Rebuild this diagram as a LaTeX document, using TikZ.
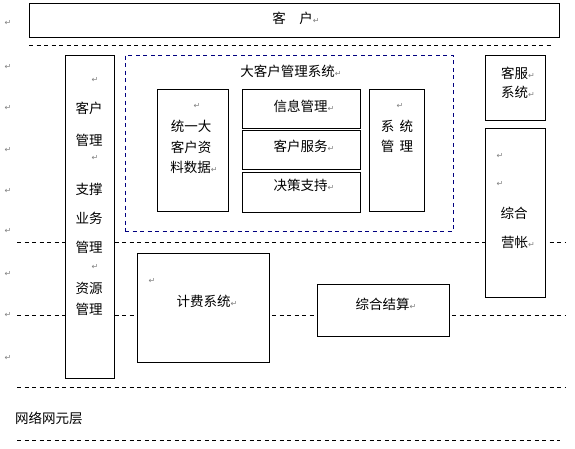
\documentclass[tikz,border=0pt]{standalone}
\usepackage{fontspec}
\newfontfamily\cjk{Noto Sans CJK SC}
\newfontfamily\dv{DejaVu Sans}
\newcommand{\ret}{{\dv\fontsize{8}{9}\selectfont\color{gray}↵}}
\definecolor{navyblue}{RGB}{0,0,128}
\begin{document}
\begin{tikzpicture}[x=1pt,y=-1pt,
  box/.style={draw=black,line width=0.9pt,fill=white,inner sep=0pt},
  dline/.style={draw=black,line width=0.8pt,dash pattern=on 4pt off 3.5pt},
  bdline/.style={draw=navyblue,line width=0.8pt,dash pattern=on 4pt off 3.5pt},
  txt/.style={font=\cjk\fontsize{13.5}{15}\selectfont,inner sep=0pt,anchor=center},
  mk/.style={inner sep=0pt,anchor=center}]
\useasboundingbox (0,0) rectangle (575,448);
% dashed layer lines
\coordinate (l1a) at (29,45); \coordinate (l1b) at (553,45);
\coordinate (l2a) at (17,242); \coordinate (l2b) at (565,242);
\coordinate (l3a) at (17,315); \coordinate (l3b) at (565,315);
\coordinate (l4a) at (17,387); \coordinate (l4b) at (565,387);
\coordinate (l5a) at (17,440); \coordinate (l5b) at (560,440);
\draw[dline] (l1a) -- (l1b);
\draw[dline] (l2a) -- (l2b);
\draw[dline] (l3a) -- (l3b);
\draw[dline] (l4a) -- (l4b);
\draw[dline] (l5a) -- (l5b);
% top box
\node[box,minimum width=530pt,minimum height=34pt] (kehu) at (294,20) {};
\node[txt] (kehut) at (296,18) {客\hspace{1em}户\ret};
% left column
\node[box,minimum width=49pt,minimum height=323pt] (left) at (89.5,216.5) {};
\node[txt] (lt1) at (89,108) {客户};
\node[txt] (lt2) at (89,140) {管理};
\node[txt] (lt3) at (89,189) {支撑};
\node[txt] (lt4) at (89,218) {业务};
\node[txt] (lt5) at (89,247) {管理};
\node[txt] (lt6) at (89,288) {资源};
\node[txt] (lt7) at (89,309) {管理};
\node[mk] (lm1) at (95,80) {\ret};
\node[mk] (lm2) at (95,158) {\ret};
\node[mk] (lm3) at (95,267) {\ret};
% big customer management system
\node[bdline,inner sep=0pt,minimum width=328pt,minimum height=176pt] (dkh) at (289,143) {};
\node[txt] (dkht) at (291,71) {大客户管理系统\ret};
\node[box,minimum width=71pt,minimum height=122pt] (tyd) at (192.5,150) {};
\node[mk] (tydm) at (197,106) {\ret};
\node[txt,align=center] (tyd1) at (191,126) {统一大};
\node[txt] (tyd2) at (191,147) {客户资};
\node[txt] (tyd3) at (194,167) {料数据\ret};
\node[box,minimum width=118pt,minimum height=39pt] (xx) at (301,108.5) {};
\node[box,minimum width=118pt,minimum height=39pt] (kf) at (301,150) {};
\node[box,minimum width=118pt,minimum height=40pt] (jc) at (301,192) {};
\node[txt] (xxt) at (304,106) {信息管理\ret};
\node[txt] (kft) at (304,146) {客户服务\ret};
\node[txt] (jct) at (304,185) {决策支持\ret};
\node[box,minimum width=55pt,minimum height=122pt] (xt) at (396.5,150) {};
\node[mk] (xtm) at (400,106) {\ret};
\node[txt] (xt1) at (397,126) {系\hspace{0.4em}统};
\node[txt] (xt2) at (397,146) {管\hspace{0.4em}理};
% right column
\node[box,minimum width=60pt,minimum height=65pt] (kfxt) at (515.5,87.5) {};
\node[txt] (kfxt1) at (518,73) {客服\ret};
\node[txt] (kfxt2) at (518,92) {系统\ret};
\node[box,minimum width=60pt,minimum height=169pt] (zhyz) at (515.5,212.5) {};
\node[mk] (zm1) at (500,156) {\ret};
\node[mk] (zm2) at (500,184) {\ret};
\node[txt] (zh1) at (514,213) {综合};
\node[txt] (zh2) at (518,242) {营帐\ret};
% billing
\node[box,minimum width=132pt,minimum height=109pt] (jf) at (203,307.5) {};
\node[mk] (jfm) at (152,281) {\ret};
\node[txt] (jft) at (207,301) {计费系统\ret};
\node[box,minimum width=132pt,minimum height=52pt] (zj) at (383,310) {};
\node[txt] (zjt) at (386,304) {综合结算\ret};
% network layer
\node[txt,anchor=west] (wl) at (15,418) {网络网元层};
% paragraph marks at left margin
\foreach \yy [count=\i] in {23,67,108,150,191,231,274,315,358}
  \node[mk] (pm\i) at (8,\yy) {\ret};
\end{tikzpicture}
\end{document}
